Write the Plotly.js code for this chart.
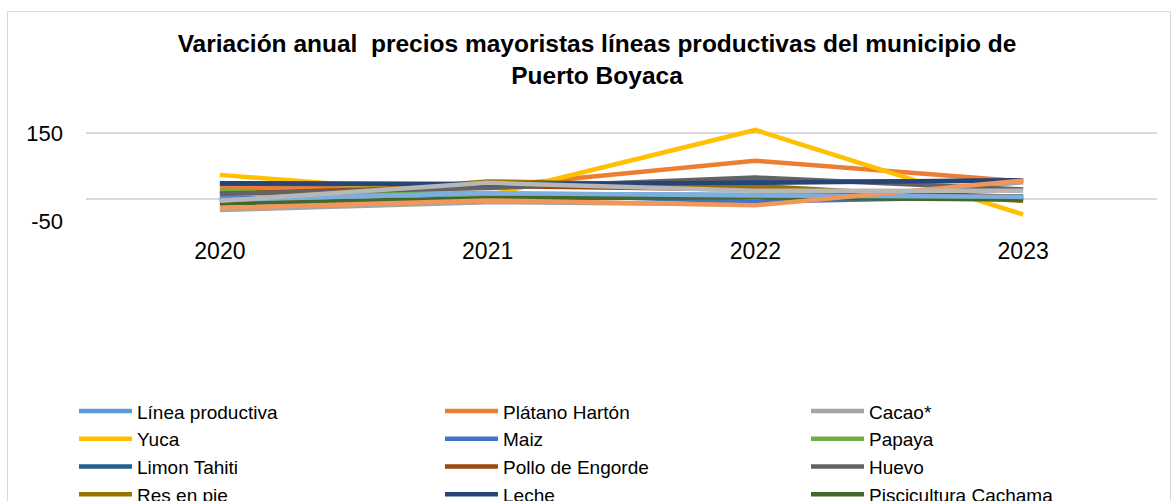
<!DOCTYPE html>
<html>
<head>
<meta charset="utf-8">
<script src="https://cdn.plot.ly/plotly-3.0.1.min.js"></script>
<style>html,body{margin:0;padding:0;background:#fff;}#chart{width:1174px;height:501px;}</style>
</head>
<body>
<div id="chart"></div>
<script>
const years = ["2020", "2021", "2022", "2023"];

const lineaProductiva   = [2, 12, 10, 6];
const platanoHarton     = [26, 28, 87, 40];
const cacao             = [-25, -7, -12, 38];
const yuca              = [55, 8, 157, -35];
const maiz              = [0, 13, -6, 6];
const papaya            = [19, 10, 4, 2];
const limonTahiti       = [35, 33, 39, 42];
const polloEngorde      = [12, 30, 22, 5];
const huevo             = [12, 25, 49, 22];
const resEnPie          = [-6, 40, 30, -4];
const leche             = [36, 34, 37, 43];
const pisciculturaCach  = [-10, 2, 4, -1];
const serie13           = [-2, 14, 8, 5];
const serie14           = [-20, -3, -14, 42];
const serie15           = [-4, 37, 19, 19];

const seriesNames = ["Línea productiva", "Plátano Hartón", "Cacao*", "Yuca", "Maiz", "Papaya",
  "Limon Tahiti", "Pollo de Engorde", "Huevo", "Res en pie", "Leche", "Piscicultura Cachama",
  "Serie 13", "Serie 14", "Serie 15"];
const seriesValues = [lineaProductiva, platanoHarton, cacao, yuca, maiz, papaya, limonTahiti,
  polloEngorde, huevo, resEnPie, leche, pisciculturaCach, serie13, serie14, serie15];
const seriesColors = ["#5B9BD5", "#ED7D31", "#A5A5A5", "#FFC000", "#4472C4", "#70AD47",
  "#255E91", "#9E480E", "#636363", "#997300", "#264478", "#43682B",
  "#7CAFDD", "#F1975A", "#B7B7B7"];

const yTickVals = [-50, 0, 150];
const yTickText = ["-50", "", "150"];

const FONT = "Liberation Sans, Arial, sans-serif";

const traces = seriesNames.map((n, i) => ({
  type: "scatter",
  mode: "lines",
  name: n,
  x: years,
  y: seriesValues[i],
  line: {color: seriesColors[i], width: 4.5},
  showlegend: i < 12
}));

const plotL = 86, plotR = 1157, plotT = 111, plotB = 221.9;
const pw = plotR - plotL, ph = plotB - plotT;
const px = v => (v - plotL) / pw;
const py = v => (plotB - v) / ph;

const layout = {
  width: 1174, height: 501,
  paper_bgcolor: "#fff", plot_bgcolor: "#fff",
  font: {family: FONT, color: "#000", size: 19},
  margin: {l: plotL, r: 1174 - plotR, t: plotT, b: 501 - plotB, autoexpand: false},
  title: {
    text: "<b>Variación anual\u00a0 precios mayoristas líneas productivas del municipio de<br>Puerto Boyaca</b>",
    font: {family: FONT, size: 24.5, color: "#000"},
    x: 597 / 1174, xref: "container", xanchor: "center",
    y: 1 - 52 / 501, yref: "container", yanchor: "top"
  },
  xaxis: {
    type: "category", range: [-0.5, 3.5],
    showgrid: false, showline: false, zeroline: false,
    ticks: "", ticklabelstandoff: 13,
    tickfont: {family: FONT, size: 23, color: "#000"}
  },
  yaxis: {
    range: [-52, 200],
    tickvals: yTickVals, ticktext: yTickText,
    showgrid: true, gridcolor: "#d9d9d9", gridwidth: 1.8,
    zeroline: false, showline: false, ticks: "",
    tickfont: {family: FONT, size: 22, color: "#000"},
    ticklabelstandoff: 22
  },
  showlegend: true,
  legend: {
    orientation: "h",
    x: px(74), xanchor: "left",
    y: py(392), yanchor: "top",
    entrywidth: 298, entrywidthmode: "pixels",
    itemwidth: 53,
    font: {family: FONT, size: 19, color: "#000"},
    bgcolor: "rgba(0,0,0,0)",
    traceorder: "normal"
  },
  shapes: [{
    type: "rect", xref: "paper", yref: "paper",
    x0: px(7.5), x1: px(1170.5), y0: py(11.5), y1: py(560),
    line: {color: "#d9d9d9", width: 1}, fillcolor: "rgba(0,0,0,0)", layer: "below"
  }]
};

Plotly.newPlot("chart", traces, layout, {displayModeBar: false, staticPlot: true});
</script>
</body>
</html>
